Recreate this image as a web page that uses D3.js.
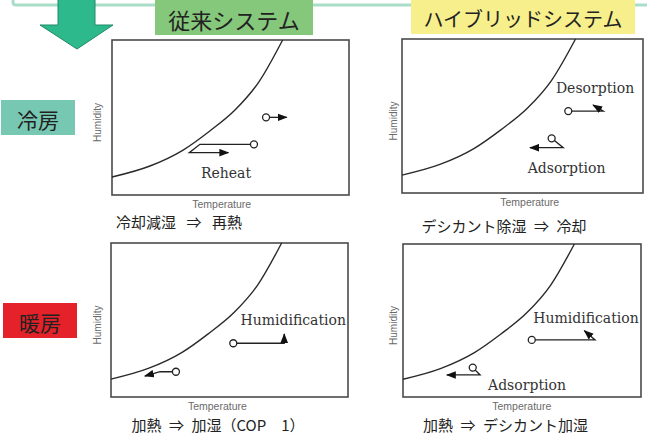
<!DOCTYPE html>
<html><head><meta charset="utf-8">
<script src="https://cdn.jsdelivr.net/npm/d3@7"></script>
<style>body{margin:0;background:#fff;} svg{display:block}</style>
</head><body>
<svg id="c" width="647" height="438"></svg>
<script>
// ---------- data ----------
const systems = ["従来システム", "ハイブリッドシステム"];
const modes = ["冷房", "暖房"];
const captions = ["冷却減湿\u2002\u2009⇒\u2002\u2009再熱", "デシカント除湿\u2002⇒\u2002冷却", "加熱\u2002⇒\u2002加湿（COP\u30001）", "加熱\u2002⇒\u2002デシカント加湿"];
const axisX = "Temperature", axisY = "Humidity";
// saturation curve (normalised temperature / humidity, 0-100)
const curveTemp = [0, 16, 30, 41, 52, 62, 72];
const curveHum  = [11.6, 18.7, 29, 41, 55, 73, 100];
// process paths: panel index, temperature points, humidity points (first point = open circle, last = arrow)
const procPanel = [0, 0, 1, 1, 2, 2, 3, 3];
const procTemp = [[59.9, 37.1, 32.6, 49.1], [65, 73.7], [69, 83.5, 79.3], [62.1, 66.9, 53.1], [27.4, 20.7, 14.3], [51.6, 73.1, 73.1], [54.1, 80.7, 76.2], [29.3, 32.4, 18.4]];
const procHum  = [[32.7, 32.7, 27.3, 27.3], [50.1, 50.1], [53.2, 53.2, 57.1], [35.5, 29.4, 29.4], [16.4, 16.4, 13.6], [34.9, 34.9, 40.9], [37.3, 37.3, 43.3], [19.2, 14.4, 14.4]];
// process labels
const labelText  = ["Reheat", "Desorption", "Adsorption", "Humidification", "Humidification", "Adsorption"];
const labelPanel = [0, 1, 1, 2, 3, 3];
const labelTemp  = [48.1, 80.1, 68.3, 76.9, 76.9, 52.1];
const labelHum   = [14.4, 68.2, 16.4, 50, 51.6, 7.8];

// ---------- layout ----------
const layout = [
  {x: 112, y: 40, w: 237, h: 155, hx: 97.5, tx: 46.3, capX: 179, capY: 228},
  {x: 402, y: 39, w: 241, h: 154, hx: 393.5, tx: 53, capX: 504, capY: 232},
  {x: 111, y: 243, w: 237, h: 154, hx: 97, tx: 44.9, capX: 218, capY: 431},
  {x: 403, y: 244, w: 238, h: 153, hx: 393, tx: 49.9, capX: 505.5, capY: 431}
];
const JP = "'Noto Sans CJK JP','Noto Sans',sans-serif";
const svg = d3.select("#c");

// top frame line
svg.append("path")
  .attr("d", "M13,-2 L13,2 Q13,5 16,5 L650,5")
  .attr("fill", "none").attr("stroke", "#a9ddc8").attr("stroke-width", 3);

// big green arrow
svg.append("path")
  .attr("d", "M58,-2 L95,-2 L95,25 L113,25 L77,49 L40,25 L58,25 Z")
  .attr("fill", "#2db98b").attr("stroke", "#1f8a66").attr("stroke-width", 1);

// header labels
const headers = [
  {x: 155, w: 158, h: 35, fill: "#86c87b", size: 22},
  {x: 411, w: 224, h: 34, fill: "#f6ef8c", size: 20}
];
headers.forEach((hd, i) => {
  svg.append("rect").attr("x", hd.x).attr("y", 0).attr("width", hd.w).attr("height", hd.h).attr("fill", hd.fill);
  svg.append("text").attr("x", hd.x + hd.w / 2).attr("y", hd.h / 2 + 1)
    .attr("text-anchor", "middle").attr("dominant-baseline", "central")
    .attr("font-family", JP).attr("font-size", hd.size).attr("fill", "#222").text(systems[i]);
});

// side mode labels
const sides = [
  {x: 1, y: 100, w: 74, h: 35, fill: "#77c8b2"},
  {x: 3, y: 303, w: 74, h: 35, fill: "#e52129"}
];
sides.forEach((sd, i) => {
  svg.append("rect").attr("x", sd.x).attr("y", sd.y).attr("width", sd.w).attr("height", sd.h).attr("fill", sd.fill);
  svg.append("text").attr("x", sd.x + sd.w / 2).attr("y", sd.y + sd.h / 2 + 1)
    .attr("text-anchor", "middle").attr("dominant-baseline", "central")
    .attr("font-family", JP).attr("font-size", 21).attr("fill", "#222").text(modes[i]);
});

// arrow marker
svg.append("defs").append("marker")
  .attr("id", "ah").attr("markerUnits", "userSpaceOnUse")
  .attr("viewBox", "0 -4 10 8").attr("refX", 9).attr("refY", 0)
  .attr("markerWidth", 10).attr("markerHeight", 8).attr("orient", "auto")
  .append("path").attr("d", "M0,-3.8 L10,0 L0,3.8 Z").attr("fill", "#111");

layout.forEach((p, pi) => {
  const x = d3.scaleLinear().domain([0, 100]).range([p.x, p.x + p.w]);
  const y = d3.scaleLinear().domain([0, 100]).range([p.y + p.h, p.y]);
  const g = svg.append("g");

  g.append("rect").attr("x", p.x).attr("y", p.y).attr("width", p.w).attr("height", p.h)
    .attr("fill", "#fff").attr("stroke", "#4a4a4a").attr("stroke-width", 1.6);

  // saturation curve
  const cpts = curveTemp.map((t, i) => [t, curveHum[i]]);
  g.append("path").datum(cpts)
    .attr("d", d3.line().x(d => x(d[0])).y(d => y(d[1])).curve(d3.curveMonotoneX))
    .attr("fill", "none").attr("stroke", "#2a2a2a").attr("stroke-width", 1.4);

  // processes
  procPanel.forEach((pp, k) => {
    if (pp !== pi) return;
    const pts = procTemp[k].map((t, i) => [t, procHum[k][i]]);
    g.append("path").datum(pts)
      .attr("d", d3.line().x(d => x(d[0])).y(d => y(d[1])))
      .attr("fill", "none").attr("stroke", "#222").attr("stroke-width", 1.3)
      .attr("marker-end", "url(#ah)");
    g.append("circle").attr("cx", x(pts[0][0])).attr("cy", y(pts[0][1])).attr("r", 3.5)
      .attr("fill", "#fff").attr("stroke", "#222").attr("stroke-width", 1.3);
  });

  // labels
  labelPanel.forEach((lp, k) => {
    if (lp !== pi) return;
    g.append("text").attr("x", x(labelTemp[k])).attr("y", y(labelHum[k]))
      .attr("text-anchor", "middle").attr("dominant-baseline", "central")
      .attr("font-family", "'DejaVu Serif',serif").attr("font-size", 14).attr("fill", "#333")
      .text(labelText[k]);
  });

  // axis titles
  g.append("text").attr("x", x(p.tx)).attr("y", p.y + p.h + 9)
    .attr("text-anchor", "middle").attr("dominant-baseline", "central")
    .attr("font-family", "'Liberation Sans',Arial,sans-serif").attr("font-size", 10.5).attr("fill", "#6a6a6a")
    .text(axisX);
  g.append("text").attr("transform", `translate(${p.hx},${p.y + p.h / 2 + 5}) rotate(-90)`)
    .attr("text-anchor", "middle").attr("dominant-baseline", "central")
    .attr("font-family", "'Liberation Sans',Arial,sans-serif").attr("font-size", 10).attr("fill", "#6a6a6a")
    .text(axisY);

  // caption
  svg.append("text").attr("x", p.capX).attr("y", p.capY)
    .attr("text-anchor", "middle")
    .attr("font-family", JP).attr("font-size", 15).attr("fill", "#222")
    .text(captions[pi]);
});
</script>
</body></html>
